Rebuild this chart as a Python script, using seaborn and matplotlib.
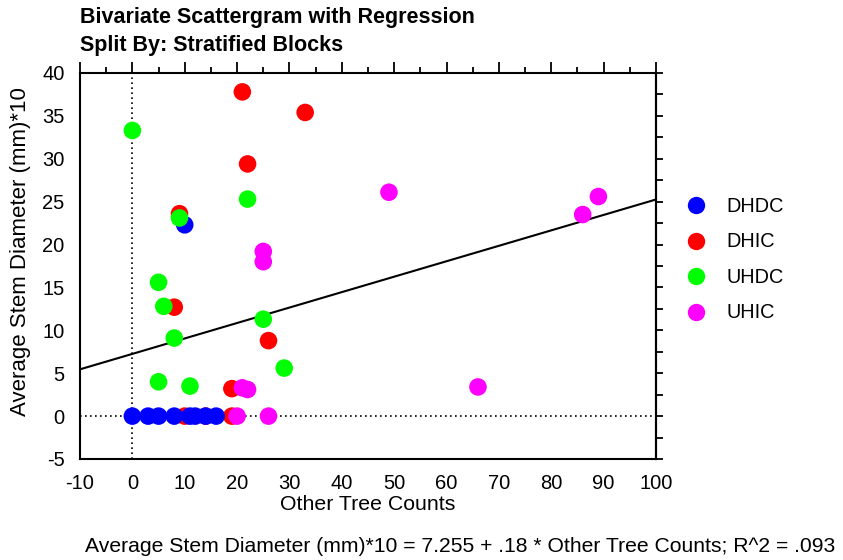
import matplotlib
matplotlib.use("Agg")
import matplotlib.pyplot as plt
import seaborn as sns
import pandas as pd
import numpy as np
from matplotlib.ticker import MultipleLocator, NullFormatter

sns.set_theme(style="white")
plt.rcParams['font.family'] = ['Liberation Sans', 'DejaVu Sans']
plt.rcParams['axes.unicode_minus'] = False
plt.rcParams['text.color'] = 'black'
plt.rcParams['axes.labelcolor'] = 'black'
plt.rcParams['xtick.color'] = 'black'
plt.rcParams['ytick.color'] = 'black'

groups = ["DHDC", "DHIC", "UHDC", "UHIC"]
colors = ["#0000FF", "#FF0000", "#00FF00", "#FF00FF"]

dhdc_x = [0, 3, 5, 8, 11, 12, 14, 16, 10]
dhdc_y = [0, 0, 0, 0, 0, 0, 0, 0, 22.3]
dhic_x = [21, 33, 22, 9, 8, 26, 19, 10, 19, 14]
dhic_y = [37.8, 35.4, 29.4, 23.6, 12.7, 8.8, 3.2, 0, 0, 0]
uhdc_x = [0, 9, 22, 5, 6, 8, 25, 29, 5, 11]
uhdc_y = [33.3, 23.1, 25.3, 15.6, 12.8, 9.1, 11.3, 5.6, 4.0, 3.5]
uhic_x = [49, 89, 86, 25, 25, 66, 21, 22, 20, 26]
uhic_y = [26.1, 25.6, 23.5, 19.2, 18.0, 3.4, 3.3, 3.1, 0, 0]

intercept = 7.255
slope = 0.18
r2 = 0.093

# draw order: DHIC, DHDC, UHDC, UHIC
frames = []
for name, xs, ys in [("DHIC", dhic_x, dhic_y), ("DHDC", dhdc_x, dhdc_y),
                     ("UHDC", uhdc_x, uhdc_y), ("UHIC", uhic_x, uhic_y)]:
    frames.append(pd.DataFrame({"x": xs, "y": ys, "group": name}))
df = pd.concat(frames, ignore_index=True)

fig = plt.figure(figsize=(8.43, 5.6), dpi=100)
ax = fig.add_axes([80/843, 101/560, 576/843, 386/560])

ax.axvline(0, color="black", linestyle=(0, (1, 2)), linewidth=1.2, zorder=1)
ax.axhline(0, color="black", linestyle=(0, (1, 2)), linewidth=1.2, zorder=1)

sns.scatterplot(data=df, x="x", y="y", hue="group", hue_order=groups,
                palette=dict(zip(groups, colors)), s=160, linewidth=0,
                edgecolor="none", ax=ax, zorder=3, legend=True)

xl = np.array([-10, 100])
ax.plot(xl, intercept + slope * xl, color="black", linewidth=1.5, zorder=2)

ax.set_xlim(-10, 100)
ax.set_ylim(-5, 40)
ax.xaxis.set_major_locator(MultipleLocator(10))
ax.xaxis.set_minor_locator(MultipleLocator(5))
ax.yaxis.set_major_locator(MultipleLocator(5))
ax.yaxis.set_minor_locator(MultipleLocator(2.5))
ax.tick_params(axis="both", which="both", direction="out", top=True, right=False,
               labeltop=False, labelright=False, color="black", width=1.3)
ax.tick_params(which="major", length=8, labelsize=14.5, pad=3)
ax.tick_params(which="minor", length=4.5)
for sp in ax.spines.values():
    sp.set_color("black")
    sp.set_linewidth(1.5)

# right-hand ticks: uniform short ticks, no labels
sec = ax.secondary_yaxis("right")
sec.yaxis.set_major_locator(MultipleLocator(2.5))
sec.yaxis.set_major_formatter(NullFormatter())
sec.tick_params(direction="out", length=5, width=1.3, color="black")
sec.spines["right"].set_linewidth(1.5)

ax.set_xlabel("Other Tree Counts", fontsize=15.3, labelpad=1)
ax.set_ylabel("Average Stem Diameter (mm)*10", fontsize=16)
ax.yaxis.set_label_coords(-49/576, (459 - 252) / 386)

handles, labels = ax.get_legend_handles_labels()
for h in handles:
    h.set_markersize(12.5)
leg = ax.legend(handles, labels, loc="upper left", bbox_to_anchor=(676/843, 1 - 197/560),
                bbox_transform=fig.transFigure, frameon=False, fontsize=14.3,
                labelspacing=0.83, handlelength=2.0, handletextpad=0.55,
                borderaxespad=0, borderpad=0)

fig.text(80/843, 1 - 18/560, "Bivariate Scattergram with Regression", fontsize=15.5,
         fontweight="bold", va="center", ha="left")
fig.text(80/843, 1 - 45/560, "Split By: Stratified Blocks", fontsize=15.5,
         fontweight="bold", va="center", ha="left")
fig.text(460/843, 1 - 547/560,
         "Average Stem Diameter (mm)*10 = 7.255 + .18 * Other Tree Counts; R^2 = .093",
         fontsize=15.2, va="center", ha="center")

fig.savefig("out.png", dpi=100)
